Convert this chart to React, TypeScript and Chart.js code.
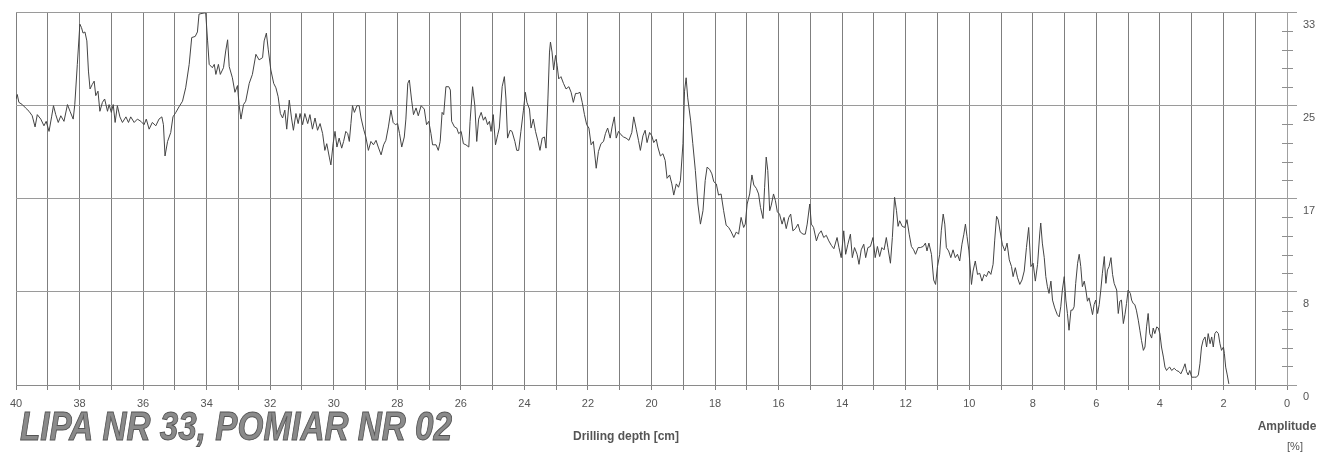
import { useEffect, useRef } from "react";
import { Chart, registerables } from "chart.js";

Chart.register(...registerables);

// Drilling depth [cm] of each sample
const depthCm: number[] = [
  40.00, 39.96, 39.91, 39.80, 39.70, 39.59, 39.49, 39.40, 39.33, 39.22,
  39.12, 39.05, 38.96, 38.88, 38.82, 38.75, 38.67, 38.59, 38.49, 38.38,
  38.30, 38.20, 38.15, 38.07, 37.99, 37.94, 37.89, 37.83, 37.77, 37.72,
  37.67, 37.60, 37.54, 37.49, 37.42, 37.36, 37.28, 37.21, 37.12, 37.07,
  37.00, 36.94, 36.88, 36.81, 36.73, 36.65, 36.54, 36.46, 36.39, 36.28,
  36.18, 36.07, 35.97, 35.90, 35.81, 35.71, 35.60, 35.50, 35.41, 35.36,
  35.31, 35.23, 35.13, 35.06, 34.97, 34.87, 34.76, 34.66, 34.55, 34.47,
  34.36, 34.29, 34.24, 34.08, 34.03, 33.97, 33.92, 33.82, 33.76, 33.71,
  33.63,
  33.57, 33.47, 33.40, 33.34, 33.29, 33.19, 33.11, 33.03, 32.98, 32.92,
  32.84, 32.77, 32.66, 32.56, 32.45, 32.35, 32.24, 32.19, 32.12, 32.06,
  31.98, 31.89, 31.82, 31.75, 31.68, 31.61, 31.54, 31.48, 31.40, 31.33,
  31.27, 31.19, 31.12, 31.06, 30.98, 30.91, 30.82, 30.75, 30.67, 30.59,
  30.51, 30.43, 30.35, 30.28, 30.22, 30.14, 30.09, 30.02, 29.96, 29.90,
  29.83, 29.75, 29.69, 29.62, 29.56, 29.51, 29.46, 29.41, 29.35, 29.27,
  29.20, 29.14, 29.06, 28.99, 28.91, 28.83, 28.75, 28.67, 28.60, 28.51,
  28.43, 28.36, 28.28, 28.20, 28.13, 28.06, 27.99, 27.93, 27.86, 27.78,
  27.73, 27.67, 27.62, 27.55, 27.49, 27.41, 27.34, 27.25,
  27.15, 27.08, 27.01, 26.94, 26.89, 26.78, 26.71, 26.65, 26.59, 26.54,
  26.47, 26.38, 26.33, 26.29, 26.20, 26.13, 26.07, 25.99, 25.92, 25.84,
  25.75, 25.71, 25.63, 25.56, 25.50, 25.44, 25.36, 25.29, 25.23, 25.16,
  25.10, 25.05, 24.98, 24.91, 24.84, 24.79, 24.70, 24.63, 24.58, 24.53,
  24.45, 24.39, 24.30, 24.24, 24.18, 24.11, 24.03, 23.97, 23.92, 23.84,
  23.79, 23.72, 23.65, 23.58, 23.51, 23.44, 23.37, 23.32, 23.26, 23.21,
  23.18, 23.13, 23.08, 23.02, 22.97, 22.92, 22.85, 22.77, 22.69, 22.60,
  22.53, 22.46, 22.39, 22.32, 22.25, 22.18, 22.11, 22.04, 21.97, 21.90,
  21.83, 21.74, 21.67, 21.59, 21.51, 21.45, 21.38, 21.30, 21.24, 21.17,
  21.11, 21.04, 20.96, 20.88, 20.80, 20.71,
  20.62, 20.56, 20.48, 20.41, 20.35, 20.27, 20.20, 20.14, 20.06, 19.99,
  19.93, 19.85, 19.80, 19.72, 19.64, 19.57, 19.51, 19.43, 19.36, 19.30,
  19.22, 19.15, 19.09, 19.01, 18.96, 18.91, 18.86, 18.77, 18.70, 18.62,
  18.54, 18.46, 18.38, 18.31, 18.25, 18.17, 18.10, 18.04, 17.96, 17.89,
  17.81, 17.73, 17.65, 17.57, 17.49, 17.41, 17.33, 17.26, 17.18, 17.10,
  17.05, 16.99, 16.91, 16.84, 16.78, 16.70, 16.63, 16.57, 16.49, 16.44,
  16.39, 16.34, 16.28, 16.23, 16.16, 16.10, 16.04, 15.97, 15.89, 15.83,
  15.76, 15.68, 15.62, 15.55, 15.47, 15.39, 15.32, 15.23, 15.16, 15.10,
  15.02, 14.97, 14.90, 14.81, 14.74, 14.66, 14.58, 14.50, 14.42, 14.34,
  14.26,
  14.16, 14.10, 14.03, 13.95, 13.89, 13.82, 13.74, 13.68, 13.61, 13.53,
  13.47, 13.40, 13.32, 13.26, 13.19, 13.11, 13.03, 12.96, 12.89, 12.82,
  12.75, 12.68, 12.61, 12.56, 12.48, 12.42, 12.35, 12.29, 12.24, 12.19,
  12.11, 12.03, 11.96, 11.89, 11.82, 11.75, 11.69, 11.61, 11.54, 11.45,
  11.38, 11.33, 11.27, 11.19, 11.12, 11.06, 11.00, 10.93, 10.88, 10.82,
  10.77, 10.72, 10.65, 10.58, 10.51, 10.44, 10.37, 10.30, 10.23, 10.17,
  10.12, 10.07, 10.01, 9.93, 9.88, 9.81, 9.74, 9.67, 9.60, 9.53,
  9.46, 9.39, 9.32, 9.25, 9.20, 9.14, 9.09, 9.02, 8.96, 8.88,
  8.81, 8.74, 8.67, 8.62, 8.55, 8.48, 8.41, 8.34, 8.27, 8.20,
  8.13, 8.06, 7.99, 7.92, 7.85,
  7.78, 7.75, 7.70, 7.64, 7.59, 7.54, 7.49, 7.43, 7.38, 7.31,
  7.23, 7.17, 7.12, 7.07, 7.01, 6.96, 6.91, 6.86, 6.80, 6.75,
  6.70, 6.65, 6.59, 6.54, 6.49, 6.44, 6.38, 6.33, 6.28, 6.23,
  6.17, 6.12, 6.07, 6.02, 5.96, 5.91, 5.86, 5.81, 5.75, 5.70,
  5.65, 5.60, 5.54, 5.49, 5.44, 5.36, 5.31, 5.26, 5.21, 5.15,
  5.10, 5.05, 5.00, 4.93, 4.89, 4.84, 4.79, 4.74, 4.68, 4.63,
  4.58, 4.52, 4.47, 4.42, 4.37, 4.32, 4.26, 4.21, 4.16, 4.10,
  4.05, 4.00, 3.95, 3.89, 3.84, 3.79, 3.74, 3.69, 3.63, 3.55,
  3.48, 3.40, 3.34, 3.26, 3.21, 3.16, 3.11, 3.06, 3.00, 2.92,
  2.85, 2.79, 2.74, 2.69, 2.64, 2.58, 2.53, 2.48, 2.42, 2.37,
  2.32, 2.27, 2.22, 2.16, 2.11, 2.06, 2.00, 1.97, 1.93, 1.88,
  1.83,
];

// Amplitude [%] of each sample
const amplitudePct: number[] = [
  25.6, 26.0, 25.3, 25.1, 24.8, 24.5, 24.1, 23.1, 24.2, 23.8,
  23.2, 23.6, 22.7, 24.0, 25.0, 24.2, 23.5, 24.1, 23.6, 25.1,
  24.5, 23.8, 25.1, 28.7, 32.3, 32.0, 31.5, 31.6, 30.8, 28.1,
  26.5, 26.9, 27.2, 25.9, 26.3, 24.5, 25.3, 25.6, 24.5, 25.1,
  24.4, 25.1, 23.5, 25.0, 24.0, 23.5, 24.0, 23.5, 24.0, 23.5,
  23.8, 23.6, 23.3, 23.8, 22.9, 23.5, 23.2, 23.8, 24.0, 23.3,
  20.5, 21.8, 22.6, 24.0, 24.4, 24.9, 25.4, 26.6, 28.7, 31.1,
  31.2, 31.6, 33.2, 33.3, 33.3, 30.8, 28.7, 28.4, 28.7, 27.8,
  28.7,
  27.8, 28.4, 29.9, 30.9, 28.5, 27.5, 26.2, 26.8, 25.1, 23.8,
  25.1, 25.4, 27.0, 27.8, 29.6, 29.1, 29.3, 30.8, 31.5, 30.0,
  28.2, 27.0, 26.6, 25.8, 24.3, 23.9, 24.6, 22.9, 25.5, 23.9,
  22.8, 24.3, 23.4, 24.3, 23.3, 24.3, 23.4, 24.2, 22.9, 23.9,
  22.8, 23.4, 22.5, 21.0, 21.6, 20.4, 19.7, 21.6, 22.7, 21.3,
  22.1, 21.2, 21.8, 22.7, 22.5, 21.8, 23.4, 25.0, 24.4, 25.0,
  25.0, 23.9, 22.9, 22.2, 21.0, 21.8, 21.5, 21.9, 21.3, 20.6,
  21.5, 21.9, 23.1, 24.6, 23.5, 23.3, 23.4, 22.5, 21.3, 22.2,
  23.8, 27.0, 27.3, 25.5, 24.2, 24.8, 24.1, 25.0,
  24.7, 23.3, 23.6, 22.5, 21.5, 21.5, 21.0, 21.8, 24.4, 24.2,
  26.7, 26.7, 26.4, 23.6, 23.1, 23.0, 22.5, 22.7, 21.6, 21.5,
  21.3, 23.6, 26.7, 25.0, 21.8, 23.8, 24.4, 23.7, 24.0, 23.3,
  23.6, 22.7, 24.2, 21.5, 22.4, 23.0, 26.7, 27.6, 25.6, 22.1,
  22.8, 22.7, 21.8, 21.0, 21.0, 22.7, 24.6, 26.2, 25.3, 24.7,
  23.0, 23.8, 22.7, 21.9, 21.0, 22.1, 22.2, 21.2, 25.6, 29.8,
  30.7, 29.8, 28.2, 29.5, 28.6, 27.4, 27.6, 27.0, 26.5, 26.7,
  26.2, 25.3, 26.1, 26.1, 26.2, 25.3, 24.2, 23.3, 23.0, 21.5,
  21.8, 19.4, 20.9, 21.6, 21.8, 22.5, 23.0, 22.1, 23.1, 24.0,
  22.1, 22.7, 22.4, 22.2, 22.1, 21.9,
  22.6, 24.0, 22.9, 21.9, 21.0, 22.3, 22.8, 21.7, 22.6, 22.3,
  21.7, 22.0, 21.3, 20.5, 20.7, 20.1, 18.5, 18.8, 18.0, 17.0,
  18.0, 17.7, 18.3, 21.6, 26.3, 27.5, 25.7, 23.7, 21.6, 19.2,
  16.2, 14.4, 15.6, 18.3, 19.5, 19.3, 18.9, 18.2, 18.0, 17.0,
  17.1, 15.6, 14.3, 14.1, 13.7, 13.2, 13.7, 13.5, 15.0, 14.1,
  14.4, 16.2, 17.1, 18.8, 17.9, 17.6, 17.1, 15.9, 14.9, 17.7,
  20.4, 19.2, 15.6, 16.1, 17.1, 16.5, 15.5, 15.3, 14.4, 15.0,
  14.0, 15.0, 15.3, 13.8, 14.0, 14.4, 13.7, 13.5, 13.5, 14.4,
  16.2, 14.4, 14.1, 12.9, 13.5, 13.8, 13.2, 13.4, 12.9, 12.5,
  12.2,
  13.2, 12.3, 11.4, 13.8, 11.7, 12.6, 13.5, 11.4, 12.3, 11.7,
  10.8, 12.1, 12.6, 11.4, 12.3, 12.4, 13.2, 11.4, 12.4, 11.5,
  12.3, 12.1, 13.2, 12.3, 10.9, 13.2, 16.8, 15.6, 14.2, 14.7,
  14.2, 14.1, 14.8, 13.5, 12.4, 12.1, 11.7, 12.3, 12.3, 12.4,
  12.7, 12.0, 12.7, 11.7, 9.4, 9.0, 10.6, 11.7, 13.8, 15.3,
  14.4, 12.3, 12.0, 11.4, 12.1, 11.4, 11.7, 11.1, 12.6, 13.5,
  14.4, 13.3, 12.0, 9.0, 10.2, 11.1, 9.9, 10.0, 9.3, 9.9,
  9.7, 10.2, 9.9, 10.8, 12.9, 15.1, 14.8, 13.6, 12.6, 12.0,
  12.7, 11.2, 10.6, 9.7, 10.5, 9.6, 9.0, 9.4, 10.2, 12.3,
  14.1, 10.6, 10.9, 9.3, 10.8,
  13.6, 14.5, 12.7, 11.4, 9.7, 8.8, 8.2, 9.3, 7.6, 6.9,
  6.3, 6.1, 7.0, 8.5, 9.7, 7.6, 6.4, 4.9, 6.7, 6.7,
  7.0, 9.1, 10.9, 11.7, 10.6, 8.8, 9.3, 8.5, 7.5, 7.8,
  7.0, 6.3, 7.2, 7.6, 6.4, 7.2, 8.5, 10.0, 11.5, 9.1,
  10.3, 10.6, 11.4, 9.9, 9.1, 8.5, 6.4, 7.5, 7.6, 5.5,
  6.3, 7.3, 8.5, 8.2, 7.6, 7.3, 7.2, 6.7, 5.8, 4.9,
  4.0, 3.1, 3.4, 5.2, 6.4, 4.6, 4.2, 5.1, 4.6, 5.2,
  5.1, 4.6, 3.4, 2.5, 1.6, 1.3, 1.5, 1.6, 1.3, 1.5,
  1.3, 1.2, 1.0, 1.5, 1.9, 1.2, 0.9, 1.3, 0.7, 0.7,
  0.7, 0.9, 1.9, 3.4, 4.0, 4.3, 3.4, 4.6, 3.7, 4.3,
  3.4, 4.6, 4.8, 4.6, 3.7, 3.1, 3.4, 2.8, 1.6, 0.9,
  0.1,
];

// Axis definitions
const depthMin = 0;
const depthMax = 40;
const depthGridStep = 1;
const depthLabelEvery = 2;
const amplitudeMax = 100 / 3;
const amplitudeTickValues = [0, 100 / 12, 200 / 12, 300 / 12, 400 / 12];
const amplitudeMinorPerMajor = 5;

const chartTitle = "LIPA NR 33, POMIAR NR 02";
const xAxisTitle = "Drilling depth [cm]";
const yAxisTitle = "Amplitude";
const yAxisUnit = "[%]";

const FONT = "'Liberation Sans', Arial, Helvetica, sans-serif";

export default function App() {
  const canvasRef = useRef<HTMLCanvasElement | null>(null);

  useEffect(() => {
    const canvas = canvasRef.current;
    if (!canvas) return;
    const n = Math.min(depthCm.length, amplitudePct.length);
    const points: { x: number; y: number }[] = [];
    for (let i = 0; i < n; i++) points.push({ x: depthCm[i], y: amplitudePct[i] });

    const extras = {
      id: "extras",
      afterDraw(chart: any) {
        const { ctx, chartArea, scales } = chart;
        const ys = scales.y;
        ctx.save();
        // minor ticks on the amplitude axis
        ctx.strokeStyle = "#8f8f8f";
        ctx.lineWidth = 1;
        const step = amplitudeTickValues[1] / amplitudeMinorPerMajor;
        const count = Math.round(amplitudeMax / step);
        for (let k = 1; k < count; k++) {
          if (k % amplitudeMinorPerMajor === 0) continue;
          const py = Math.round(ys.getPixelForValue(k * step)) + 0.5;
          ctx.beginPath();
          ctx.moveTo(chartArea.right - 5, py);
          ctx.lineTo(chartArea.right + 6, py);
          ctx.stroke();
        }
        // axis titles
        ctx.fillStyle = "#555";
        ctx.textAlign = "center";
        ctx.textBaseline = "middle";
        ctx.font = `bold 12px ${FONT}`;
        ctx.fillText(xAxisTitle, 626, 437);
        ctx.fillText(yAxisTitle, 1287, 427);
        ctx.font = `11px ${FONT}`;
        ctx.fillText(yAxisUnit, 1295, 447);
        // big title
        ctx.font = `italic bold 41px ${FONT}`;
        const w = ctx.measureText(chartTitle).width;
        const sx = 432 / w;
        ctx.translate(20, 440);
        ctx.scale(sx, 1);
        ctx.textAlign = "left";
        ctx.textBaseline = "alphabetic";
        ctx.fillStyle = "#8a8a8a";
        ctx.fillText(chartTitle, 0, 0);
        ctx.strokeStyle = "#555";
        ctx.lineWidth = 1;
        ctx.strokeText(chartTitle, 0, 0);
        ctx.restore();
      },
    };

    const chart = new Chart(canvas, {
      type: "line",
      data: {
        datasets: [
          {
            data: points,
            borderColor: "#444",
            borderWidth: 1,
            pointRadius: 0,
            tension: 0,
            fill: false,
          },
        ],
      },
      options: {
        animation: false,
        responsive: false,
        devicePixelRatio: 1,
        parsing: false as any,
        layout: { padding: { left: 16, top: 11, right: 0, bottom: 0 } },
        plugins: {
          legend: { display: false },
          tooltip: { enabled: false },
          title: { display: false },
        },
        scales: {
          x: {
            type: "linear",
            reverse: true,
            min: depthMin,
            max: depthMax,
            afterFit: (s: any) => {
              s.height = 67;
            },
            ticks: {
              stepSize: depthGridStep,
              autoSkip: false,
              maxRotation: 0,
              padding: 7,
              color: "#555",
              font: { family: FONT, size: 11 },
              callback: (v: any) => (Number(v) % depthLabelEvery === 0 ? String(v) : ""),
            },
            grid: { color: "#7f7f7f", lineWidth: 1, tickLength: 5 },
            border: { color: "#8a8a8a" },
          },
          y: {
            type: "linear",
            position: "right",
            min: 0,
            max: amplitudeMax,
            afterFit: (s: any) => {
              s.width = 45;
            },
            afterBuildTicks: (s: any) => {
              s.ticks = amplitudeTickValues.map((value) => ({ value }));
            },
            ticks: {
              padding: 6,
              labelOffset: 12,
              color: "#555",
              font: { family: FONT, size: 11 },
              callback: (v: any) => String(Math.round(Number(v))),
            },
            grid: { color: "#9a9a9a", lineWidth: 1, tickLength: 10 },
            border: { color: "#a0a0a0" },
          },
        },
      } as any,
      plugins: [extras],
    });

    return () => chart.destroy();
  }, []);

  return (
    <div style={{ position: "absolute", left: 0, top: 0, width: 1332, height: 452, background: "#fff" }}>
      <canvas ref={canvasRef} width={1332} height={452} style={{ display: "block", width: 1332, height: 452 }} />
    </div>
  );
}
